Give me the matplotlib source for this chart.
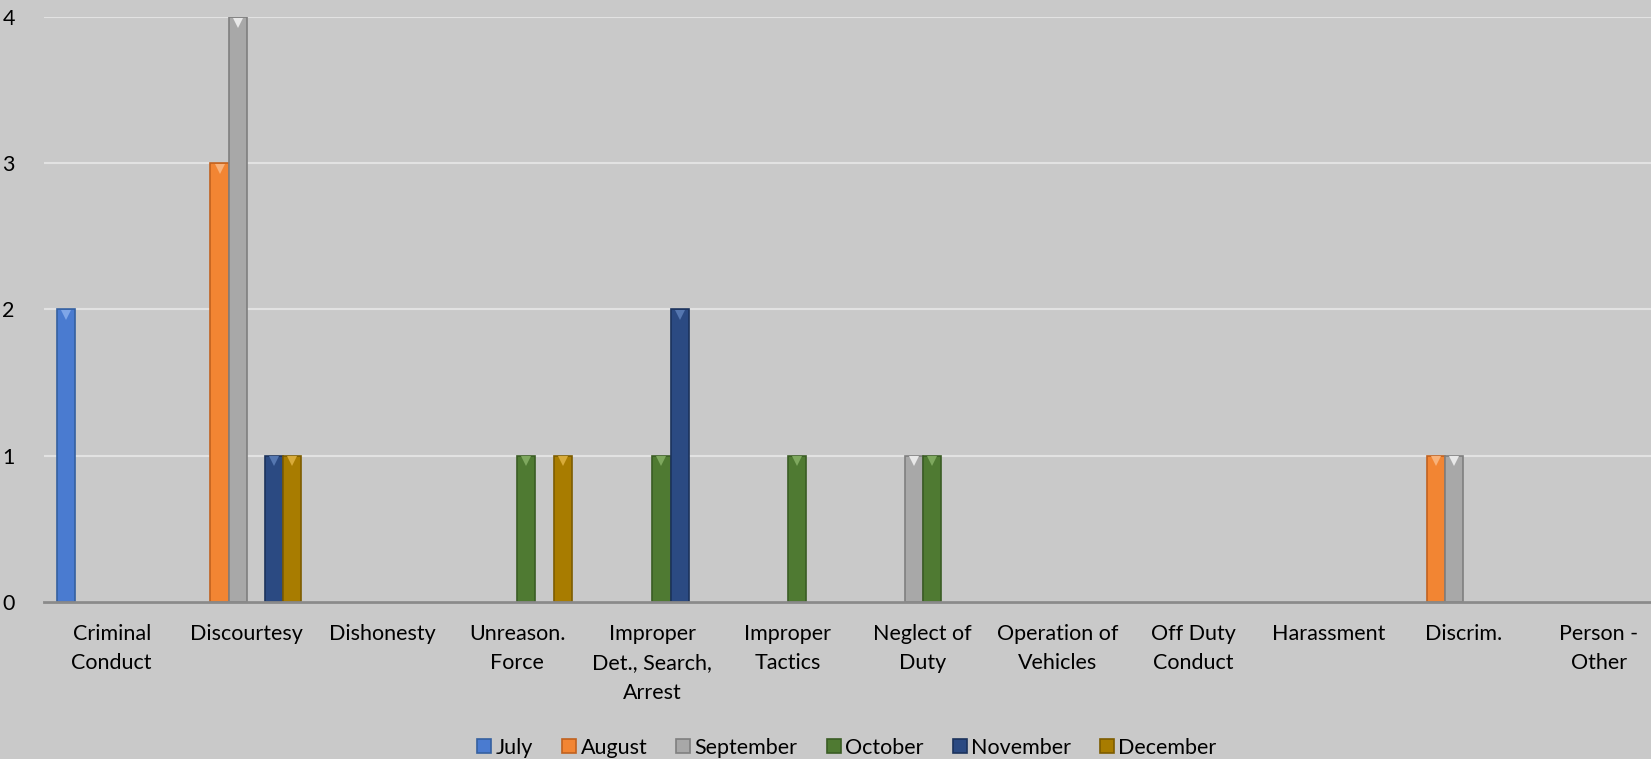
import numpy as np
import matplotlib
matplotlib.use("Agg")
import matplotlib.pyplot as plt

categories = ["Criminal\nConduct", "Discourtesy", "Dishonesty", "Unreason.\nForce",
              "Improper\nDet., Search,\nArrest", "Improper\nTactics", "Neglect of\nDuty",
              "Operation of\nVehicles", "Off Duty\nConduct", "Harassment", "Discrim.",
              "Person -\nOther"]
months = ["July", "August", "September", "October", "November", "December"]
july = [2, 0, 0, 0, 0, 0, 0, 0, 0, 0, 0, 0]
august = [0, 3, 0, 0, 0, 0, 0, 0, 0, 0, 1, 0]
september = [0, 4, 0, 0, 0, 0, 1, 0, 0, 0, 1, 0]
october = [0, 0, 0, 1, 1, 1, 1, 0, 0, 0, 0, 0]
november = [0, 1, 0, 0, 2, 0, 0, 0, 0, 0, 0, 0]
december = [0, 1, 0, 1, 0, 0, 0, 0, 0, 0, 0, 0]
series = [july, august, september, october, november, december]
colors = ["#4a7bd0", "#f28533", "#a8a8a8", "#4f7a32", "#2b4a82", "#a87c00"]
edges = ["#35609f", "#c0611f", "#7f7f7f", "#3a5c24", "#1c335c", "#7d5c00"]
tips = ["#7fa6e8", "#f8b27a", "#e8e8e8", "#7ea85e", "#5577b0", "#d8ab3a"]

plt.rcParams['font.family'] = ['Lato', 'DejaVu Sans']
bg = "#c9c9c9"
fig = plt.figure(figsize=(16.51, 7.59), dpi=100, facecolor=bg)
# the plot area runs a little past the right edge, as in the original
ax = fig.add_axes([0.0267, 0.207, 0.9825, 0.771], facecolor=bg)

x = np.arange(len(categories))
w = 0.1346
for i, (vals, c, ec, tc, m) in enumerate(zip(series, colors, edges, tips, months)):
    v = np.array(vals, dtype=float)
    pos = x + (i - 2.5) * w
    mask = v > 0
    ax.bar(pos[mask], v[mask], width=w, color=c, edgecolor=ec, linewidth=1.2, label=m, zorder=3)
    ax.plot(pos[mask], v[mask] - 0.04, linestyle="none", marker="v", markersize=7,
            color=tc, markeredgewidth=0, zorder=4)

ax.set_xlim(-0.5, len(categories) - 0.5)
ax.set_ylim(0, 4)
ax.set_yticks([0, 1, 2, 3, 4])
ax.set_xticks(x)
ax.set_xticklabels(categories, fontsize=15.5, linespacing=1.58)
ax.tick_params(axis='both', length=0, labelsize=15.5, colors="black")
ax.tick_params(axis='x', pad=16)
ax.tick_params(axis='y', pad=30)
for lab in ax.get_yticklabels():
    lab.set_horizontalalignment('left')
ax.grid(axis='y', color="#e2e2e2", linewidth=1.5, zorder=0)
for s in ["top", "right", "left"]:
    ax.spines[s].set_visible(False)
ax.spines["bottom"].set_color("#8a8a8a")
ax.spines["bottom"].set_linewidth(2)
ax.spines["bottom"].set_zorder(5)

fig.legend(loc="lower center", bbox_to_anchor=(0.513, -0.024), ncol=6, frameon=False,
           fontsize=15.5, handlelength=0.65, handleheight=0.65, handletextpad=0.2,
           columnspacing=1.35)

fig.savefig("out.png", dpi=100, facecolor=bg)
